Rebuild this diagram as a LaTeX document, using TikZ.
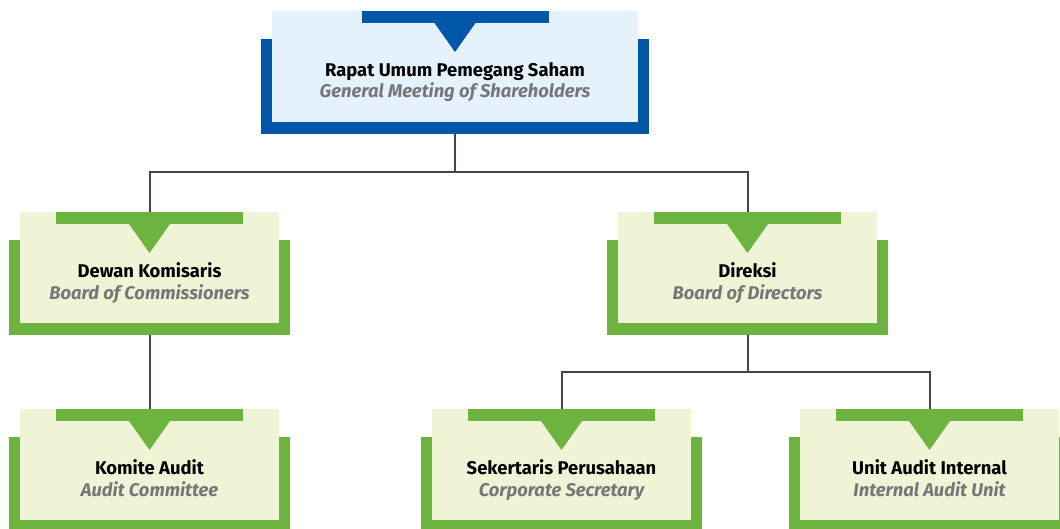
\documentclass[tikz,border=0pt]{standalone}
\usepackage{fontspec}
\setmainfont{Fira Sans}
\definecolor{bblue}{HTML}{0057A8}
\definecolor{lblue}{HTML}{E5F1FB}
\definecolor{ggreen}{HTML}{6DB33F}
\definecolor{lgreen}{HTML}{F0F4D6}
\definecolor{txtgray}{HTML}{77777A}
\definecolor{connclr}{HTML}{4A4446}
\tikzset{
  frame/.style={rectangle, inner sep=0pt, outer sep=0pt, minimum height=95pt},
  panel/.style={rectangle, inner sep=0pt, outer sep=0pt, minimum height=111pt},
  topbar/.style={rectangle, inner sep=0pt, outer sep=0pt, minimum width=187pt, minimum height=12pt},
  ttl/.style={font=\bfseries\fontsize{18.4}{21}\selectfont, anchor=base, inner sep=0pt},
  sub/.style={font=\bfseries\itshape\fontsize{18.4}{21}\selectfont, text=txtgray, anchor=base, inner sep=0pt},
  connector/.style={draw=connclr, line width=2pt},
}
% #1 name, #2 centre x, #3 top y, #4 panel width, #5 frame width, #6 dark, #7 light, #8 title, #9 subtitle
\newcommand\orgunit[9]{%
  \node[frame, fill=#6, minimum width=#5pt] (#1F) at ({#2},{#3+75.5}) {};
  \node[panel, fill=#7, minimum width=#4pt] (#1) at ({#2},{#3+55.5}) {};
  \node[topbar, fill=#6] (#1B) at ({#2},{#3+6}) {};
  \fill[#6] ({#2-20.5},{#3+12}) -- ({#2+20.5},{#3+12}) -- ({#2},{#3+41}) -- cycle;
  \node[ttl] (#1T) at ({#2},{#3+65.5}) {#8};
  \node[sub] (#1S) at ({#2},{#3+87}) {#9};
}
\begin{document}
\begin{tikzpicture}[x=1pt, y=-1pt]
\useasboundingbox (0,0) rectangle (1060,529);
\clip (0,0) rectangle (1060,529);
\fill[white] (0,0) rectangle (1060,529);
\coordinate (j1) at (455,172);
\coordinate (j2) at (747.5,372);
\orgunit{rups}{455}{11}{366}{388}{bblue}{lblue}{Rapat Umum Pemegang Saham}{General Meeting of Shareholders}
\orgunit{dk}{149.5}{212}{259}{281}{ggreen}{lgreen}{Dewan Komisaris}{Board of Commissioners}
\orgunit{dir}{747.5}{212}{259}{281}{ggreen}{lgreen}{Direksi}{Board of Directors}
\orgunit{ka}{149.5}{409}{259}{281}{ggreen}{lgreen}{Komite Audit}{Audit Committee}
\orgunit{sek}{561.5}{409}{259}{281}{ggreen}{lgreen}{Sekertaris Perusahaan}{Corporate Secretary}
\orgunit{uai}{929.5}{409}{259}{281}{ggreen}{lgreen}{Unit Audit Internal}{Internal Audit Unit}
\draw[connector] (rupsF.south) -- (j1);
\draw[connector] (dk.north) |- (j1) -| (dir.north);
\draw[connector] (dkF.south) -- (ka.north);
\draw[connector] (dirF.south) -- (j2);
\draw[connector] (sek.north) |- (j2) -| (uai.north);
\end{tikzpicture}
\end{document}
